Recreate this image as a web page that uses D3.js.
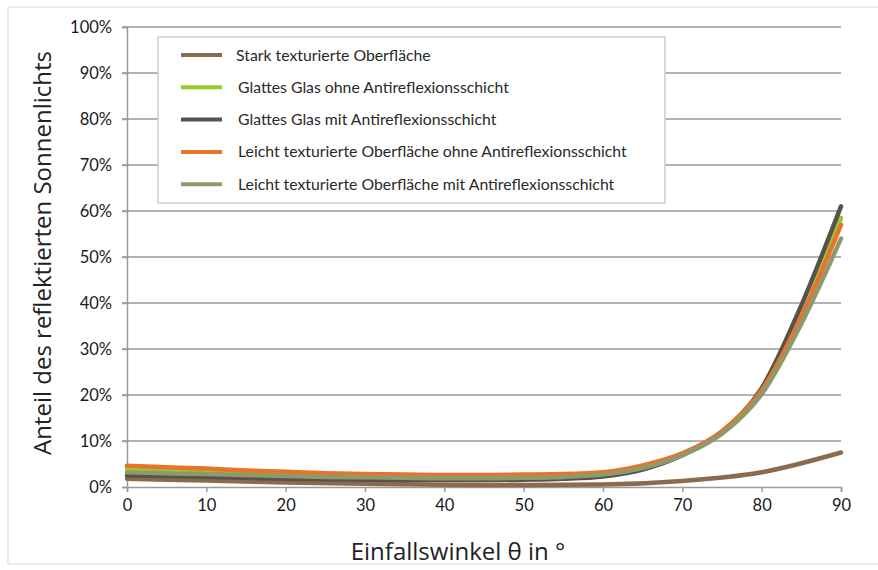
<!DOCTYPE html>
<html>
<head>
<meta charset="utf-8">
<script src="https://cdn.jsdelivr.net/npm/d3@7"></script>
<style>
  body { margin: 0; background: #fff; }
  svg { display: block; }
</style>
</head>
<body>
<div id="chart"></div>
<script>
// angles in degrees, values in percent
var angles = [0, 5, 10, 15, 20, 25, 30, 35, 40, 45, 50, 55, 60, 65, 70, 75, 80, 85, 90]
var anglesCoarse = [0, 10, 20, 30, 40, 50, 60, 70, 80, 90]

var stark = [1.8, 1.4, 1.0, 0.7, 0.5, 0.45, 0.55, 1.3, 3.2, 7.5]
var glasOhne = [4.1, 3.9, 3.6, 3.3, 3.0, 2.8, 2.6, 2.5, 2.4, 2.4, 2.5, 2.6, 3.0, 4.5, 7.2, 12.0, 21.0, 37.0, 58.5]
var glasMit = [2.5, 2.4, 2.2, 2.0, 1.8, 1.7, 1.6, 1.5, 1.5, 1.5, 1.6, 1.8, 2.3, 3.8, 6.9, 12.0, 21.5, 39.5, 61.0]
var leichtOhne = [4.6, 4.3, 4.0, 3.6, 3.3, 3.0, 2.8, 2.7, 2.6, 2.6, 2.7, 2.8, 3.2, 4.7, 7.3, 12.1, 21.0, 37.0, 57.0]
var leichtMit = [3.2, 3.0, 2.8, 2.6, 2.4, 2.2, 2.1, 2.0, 1.9, 1.9, 2.0, 2.2, 2.7, 4.1, 6.9, 11.6, 20.2, 35.5, 54.0]

var seriesNames = [
  "Stark texturierte Oberfläche",
  "Glattes Glas ohne Antireflexionsschicht",
  "Glattes Glas mit Antireflexionsschicht",
  "Leicht texturierte Oberfläche ohne Antireflexionsschicht",
  "Leicht texturierte Oberfläche mit Antireflexionsschicht"
]
var seriesColors = ["#8c6a4c", "#9cc92a", "#57524c", "#e8742a", "#8f9a6c"]

var xTicks = [0, 10, 20, 30, 40, 50, 60, 70, 80, 90]
var yTicks = [0, 10, 20, 30, 40, 50, 60, 70, 80, 90, 100]

var series = [
  {x: anglesCoarse, y: stark},
  {x: angles, y: glasOhne},
  {x: angles, y: glasMit},
  {x: angles, y: leichtOhne},
  {x: angles, y: leichtMit}
]

var width = 878, height = 570
var margin = {top: 27, left: 127, right: 37, bottom: 83}
var tickFont = "Lato, 'Open Sans', sans-serif"

var svg = d3.select("#chart").append("svg")
  .attr("width", width).attr("height", height)

// outer frame
svg.append("rect")
  .attr("x", 8).attr("y", 7)
  .attr("width", width + 10).attr("height", 557)
  .attr("fill", "none").attr("stroke", "#e6e6e6").attr("stroke-width", 1.5)

var x = d3.scaleLinear().domain([0, 90]).range([margin.left, width - margin.right])
var y = d3.scaleLinear().domain([0, 100]).range([height - margin.bottom, margin.top])

// gridlines
svg.append("g").selectAll("line")
  .data(yTicks.filter(function(d){ return d > 0 }))
  .enter().append("line")
  .attr("x1", margin.left - 5).attr("x2", x(90))
  .attr("y1", function(d){ return y(d) }).attr("y2", function(d){ return y(d) })
  .attr("stroke", "#9a9a9a").attr("stroke-width", 1.5)

// y axis
var yAxis = svg.append("g")
  .attr("transform", "translate(" + margin.left + ",0)")
  .call(d3.axisLeft(y).tickValues(yTicks).tickSize(5).tickPadding(10)
    .tickFormat(function(d){ return d + "%" }))
yAxis.select(".domain").attr("stroke", "#9a9a9a").attr("stroke-width", 1.5)
yAxis.selectAll(".tick line").attr("stroke", "#9a9a9a").attr("stroke-width", 1.5)
yAxis.selectAll("text")
  .attr("font-family", tickFont).attr("font-size", 16.5)
  .attr("fill", "#1a1a1a")

// x axis
var xAxis = svg.append("g")
  .attr("transform", "translate(0," + y(0) + ")")
  .call(d3.axisBottom(x).tickValues(xTicks).tickSize(5).tickPadding(7).tickSizeOuter(5))
xAxis.select(".domain").attr("stroke", "#9a9a9a").attr("stroke-width", 1.5)
xAxis.selectAll(".tick line").attr("stroke", "#9a9a9a").attr("stroke-width", 1.5)
xAxis.selectAll("text")
  .attr("font-family", tickFont).attr("font-size", 16.5)
  .attr("fill", "#1a1a1a")

// lines
var line = d3.line()
  .x(function(d){ return x(d[0]) })
  .y(function(d){ return y(d[1]) })
  .curve(d3.curveMonotoneX)

svg.append("g").selectAll("path")
  .data(series)
  .enter().append("path")
  .attr("d", function(s){ return line(d3.zip(s.x, s.y)) })
  .attr("fill", "none")
  .attr("stroke", function(s, i){ return seriesColors[i] })
  .attr("stroke-width", 4.5)
  .attr("stroke-linejoin", "round")
  .attr("stroke-linecap", "round")

// legend
var legend = svg.append("g")
legend.append("rect")
  .attr("x", 158).attr("y", 37).attr("width", 507).attr("height", 166)
  .attr("fill", "#fff").attr("stroke", "#cfcfcf").attr("stroke-width", 1.5)

var items = legend.selectAll(".item")
  .data(seriesNames)
  .enter().append("g")
  .attr("class", "item")
  .attr("transform", function(d, i){ return "translate(0," + (55 + i * 32.3) + ")" })
items.append("line")
  .attr("x1", 181).attr("x2", 222)
  .attr("stroke", function(d, i){ return seriesColors[i] })
  .attr("stroke-width", 4)
items.append("text")
  .attr("x", function(d, i){ return i == 0 ? 236 : 238 })
  .attr("dy", "0.35em")
  .attr("font-family", tickFont).attr("font-size", 15.8)
  .attr("fill", "#2a2a2a")
  .text(function(d){ return d })

// axis titles
svg.append("text")
  .attr("x", 458).attr("y", 560)
  .attr("text-anchor", "middle")
  .attr("font-family", "'Open Sans', sans-serif").attr("font-size", 24)
  .attr("fill", "#222")
  .text("Einfallswinkel θ in °")

svg.append("text")
  .attr("transform", "translate(51,253) rotate(-90)")
  .attr("text-anchor", "middle")
  .attr("font-family", "'Open Sans', sans-serif").attr("font-size", 24)
  .attr("fill", "#222")
  .text("Anteil des reflektierten Sonnenlichts")
</script>
</body>
</html>
